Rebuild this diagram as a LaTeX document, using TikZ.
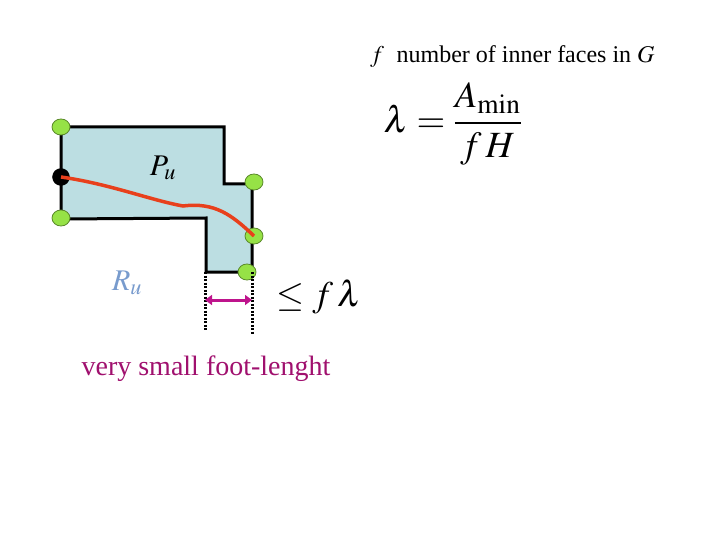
\documentclass[tikz,border=0pt]{standalone}
\usepackage{amsmath}
\usepackage{mathptmx}
\usepackage{fontspec}
\setmainfont{Liberation Serif}

\definecolor{facefill}{RGB}{188,222,226}
\definecolor{vertgreen}{RGB}{150,226,70}
\definecolor{pathred}{RGB}{232,64,28}
\definecolor{footpink}{RGB}{190,20,140}
\definecolor{textpurple}{RGB}{160,16,110}
\definecolor{rublue}{RGB}{120,155,205}

\usetikzlibrary{shapes.geometric,arrows.meta}
\tikzset{
  vert/.style={draw=vertgreen!60!black,line width=0.8pt,fill=vertgreen,ellipse,inner sep=0pt,minimum width=18pt,minimum height=16pt},
  bigtext/.style={font=\fontsize{24}{28}\selectfont,inner sep=0pt}
}

\begin{document}
\begin{tikzpicture}[x=1pt,y=-1pt]
\useasboundingbox (0,0) rectangle (720,540);

% face P_u
\draw [fill=facefill,line width=3pt,line join=miter]
  (61,127) -- (224,127) -- (224,184) -- (252,184) -- (252,272) -- (206,272)
  -- (206,218) -- (61,219) -- cycle;

% vertices
\node (v1) at (61,127) [vert] {};
\node (v2) at (61,177) [draw,fill=black,circle,inner sep=0pt,minimum size=17pt] {};
\node (v3) at (61,218) [vert] {};
\node (v4) at (254,182) [vert] {};
\node (v5) at (254,236) [vert] {};
\node (v6) at (247,272) [vert] {};

% path through the face
\draw [pathred,line width=3.5pt]
  (v2.center) .. controls (110,184) and (150,200) .. (183,206)
  .. controls (215,202) and (232,215) .. (v5.center);

\node (Pu) at (163,168) [font=\fontsize{30}{34}\selectfont] {$P_u$};
\node (Ru) at (127,283) [font=\fontsize{30}{34}\selectfont,text=rublue] {$R_u$};

% foot
\coordinate (fl) at (205,272);
\coordinate (fr) at (252,272);
\draw [line width=3pt,dash pattern=on 2pt off 1.5pt] (fl) -- ++(0,59);
\draw [line width=3pt,dash pattern=on 2pt off 1.5pt] (fr) -- ++(0,63);
\draw [footpink,line width=3pt,{Triangle[length=7pt,width=10pt]}-{Triangle[length=7pt,width=10pt]}]
  ([yshift=-28pt]fl) -- ([yshift=-28pt]fr);

\node (le) at (273,297) [anchor=west,font=\fontsize{36}{40}\selectfont] {$\leq f\,\lambda$};
\node (foot) at (206,369) [font=\fontsize{28}{32}\selectfont,inner sep=0pt,text=textpurple] {very small foot-lenght};

% legend
\node (fdef) at (370,57) [anchor=west,bigtext] {$f$\; number of inner faces in $G$};
\node (lam) at (380,124) [anchor=west,font=\fontsize{37}{41}\selectfont] {$\lambda=\dfrac{A_{\min}}{f\,H}$};

\end{tikzpicture}
\end{document}
